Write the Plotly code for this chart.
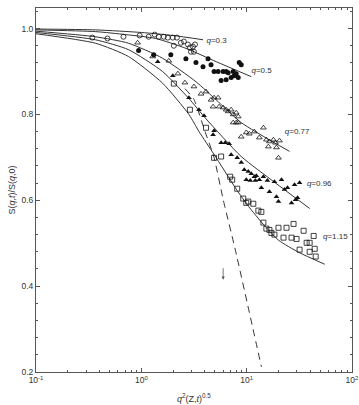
import numpy as np
import plotly.graph_objects as go

# ---- data ----
# q = 0.3 (open circles)
x_q030 = [0.343, 0.477, 0.677, 0.963, 1.174, 1.340, 1.463, 1.633, 1.783, 1.990, 2.174,
          2.374, 2.535, 2.768, 2.892, 3.090, 2.958, 3.159, 2.035, 3.229]
y_q030 = [0.979, 0.977, 0.981, 0.984, 0.981, 0.986, 0.981, 0.981, 0.979, 0.979, 0.979,
          0.967, 0.970, 0.963, 0.956, 0.958, 0.946, 0.946, 0.960, 0.963]
# q = 0.5 (filled circles)
x_q050 = [0.942, 1.311, 1.905, 2.649, 3.300, 3.850, 4.591, 4.298, 4.904, 5.355, 5.721,
          5.978, 6.386, 6.386, 6.673, 7.127, 7.447, 7.614, 7.955, 8.314, 8.498, 8.880]
y_q050 = [0.949, 0.939, 0.939, 0.930, 0.921, 0.911, 0.916, 0.930, 0.900, 0.900, 0.879,
          0.900, 0.900, 0.881, 0.897, 0.886, 0.900, 0.890, 0.895, 0.886, 0.921, 0.916]
# q = 0.77 (open triangles)
x_q077 = [0.922, 1.282, 1.823, 2.222, 2.592, 3.159, 3.685, 4.113, 4.591, 4.904, 5.355,
          4.797, 5.475, 5.978, 6.386, 6.673, 7.127, 7.447, 7.955, 8.314, 7.447, 7.955,
          8.314, 8.880, 9.913, 10.59, 11.82, 13.19, 14.41, 15.39, 16.44, 17.96, 18.76,
          20.48, 16.08, 19.17, 20.04]
y_q077 = [0.967, 0.935, 0.925, 0.895, 0.874, 0.865, 0.848, 0.853, 0.834, 0.839, 0.839,
          0.818, 0.818, 0.816, 0.811, 0.807, 0.811, 0.800, 0.804, 0.795, 0.781, 0.781,
          0.781, 0.748, 0.758, 0.755, 0.760, 0.746, 0.769, 0.741, 0.737, 0.741, 0.734,
          0.739, 0.725, 0.723, 0.699]
# q = 0.96 (filled triangles)
x_q096 = [1.431, 1.990, 2.830, 3.526, 3.936, 4.904, 4.797, 5.721, 6.246, 6.821, 7.127,
          8.132, 8.880, 9.487, 10.36, 11.06, 11.82, 12.35, 9.913, 10.82, 12.08, 13.19,
          14.41, 15.73, 18.35, 21.41, 13.79, 19.17, 22.87, 24.42, 28.49, 31.80, 26.67,
          29.13, 30.43, 20.04, 16.44]
y_q096 = [0.923, 0.890, 0.839, 0.811, 0.797, 0.762, 0.753, 0.734, 0.734, 0.732, 0.706,
          0.699, 0.688, 0.671, 0.667, 0.662, 0.655, 0.657, 0.648, 0.646, 0.646, 0.648,
          0.655, 0.646, 0.643, 0.648, 0.629, 0.608, 0.625, 0.629, 0.636, 0.641, 0.594,
          0.601, 0.606, 0.597, 0.620]
# q = 1.15 (open squares)
x_q115 = [2.035, 2.892, 4.113, 4.904, 5.721, 6.973, 7.286, 8.132, 9.280, 10.36, 9.913,
          11.56, 12.91, 13.79, 14.41, 15.39, 16.44, 17.18, 20.04, 18.35, 22.37, 23.89,
          26.67, 29.76, 27.87, 34.72, 31.80, 37.09, 39.62, 43.27, 39.62, 44.24, 45.22]
y_q115 = [0.872, 0.811, 0.769, 0.699, 0.702, 0.655, 0.648, 0.627, 0.604, 0.597, 0.594,
          0.592, 0.576, 0.573, 0.548, 0.534, 0.531, 0.524, 0.536, 0.520, 0.513, 0.536,
          0.513, 0.510, 0.545, 0.529, 0.485, 0.501, 0.501, 0.517, 0.480, 0.487, 0.469]

# theory curves
cx_030 = [0.1, 0.37, 1.0, 2.0, 3.85]
cy_030 = [0.999, 0.997, 0.991, 0.984, 0.974]
cx_050 = [0.1, 0.366, 0.71, 1.37, 2.65, 5.13, 11.06]
cy_050 = [0.997, 0.993, 0.986, 0.977, 0.954, 0.923, 0.888]
cx_077 = [0.1, 0.366, 0.755, 1.59, 3.31, 5.13, 8.88, 25.5]
cy_077 = [0.994, 0.981, 0.966, 0.931, 0.876, 0.834, 0.781, 0.714]
cx_096 = [0.1, 0.366, 0.755, 1.59, 2.83, 4.11, 8.88, 18.4, 39.6]
cy_096 = [0.991, 0.974, 0.951, 0.900, 0.837, 0.790, 0.702, 0.642, 0.581]
cx_115 = [0.1, 0.366, 0.755, 1.59, 2.83, 3.53, 4.9, 7.96, 10.4, 14.4, 20.1, 31.1, 55.1]
cy_115 = [0.988, 0.966, 0.935, 0.873, 0.800, 0.760, 0.707, 0.626, 0.586, 0.544, 0.507, 0.479, 0.451]
# dashed curve
dx = [2.6, 3.16, 4.0, 4.9, 5.98, 7.78, 13.8]
dy = [0.86, 0.835, 0.762, 0.70, 0.602, 0.486, 0.212]

# labels
lab_text = ["<i>q</i>=0.3", "<i>q</i>=0.5", "<i>q</i>=0.77", "<i>q</i>=0.96", "<i>q</i>=1.15"]
lab_x = [4.15, 11.1, 23.0, 37.3, 53.0]
lab_y = [0.972, 0.902, 0.760, 0.639, 0.515]

# arrow
arrow_x = 5.98
arrow_y = 0.415

x_tickvals = [0.1, 1, 10, 100]
x_ticktext = ["10<sup>-1</sup>", "10<sup>0</sup>", "10<sup>1</sup>", "10<sup>2</sup>"]
y_tickvals = [0.2, 0.4, 0.6, 0.8, 1.0]
y_ticktext = ["0.2", "0.4", "0.6", "0.8", "1.0"]

LC = "#333333"
FONT = "Liberation Sans, Arial"
fig = go.Figure()
for cx, cy in [(cx_030, cy_030), (cx_050, cy_050), (cx_077, cy_077), (cx_096, cy_096), (cx_115, cy_115)]:
    fig.add_trace(go.Scatter(x=cx, y=cy, mode="lines", line=dict(color=LC, width=1, shape="spline", smoothing=0.6),
                             hoverinfo="skip"))
fig.add_trace(go.Scatter(x=dx, y=dy, mode="lines", line=dict(color=LC, width=1, dash="7px,5px", shape="spline", smoothing=0.5)))

MS = 5
fig.add_trace(go.Scatter(x=x_q030, y=y_q030, mode="markers",
                         marker=dict(symbol="circle-open", size=MS, color="#111", line=dict(width=0.8))))
fig.add_trace(go.Scatter(x=x_q050, y=y_q050, mode="markers",
                         marker=dict(symbol="circle", size=MS, color="#111", line=dict(width=0))))
fig.add_trace(go.Scatter(x=x_q077, y=y_q077, mode="markers",
                         marker=dict(symbol="triangle-up-open", size=MS, color="#111", line=dict(width=0.8))))
fig.add_trace(go.Scatter(x=x_q096, y=y_q096, mode="markers",
                         marker=dict(symbol="triangle-up", size=MS, color="#111", line=dict(width=0))))
fig.add_trace(go.Scatter(x=x_q115, y=y_q115, mode="markers",
                         marker=dict(symbol="square-open", size=MS, color="#111", line=dict(width=0.8))))
fig.add_trace(go.Scatter(x=lab_x, y=lab_y, mode="text", text=lab_text, textposition="middle right",
                         cliponaxis=False, textfont=dict(size=8, color="#333", family=FONT)))

fig.add_annotation(x=np.log10(arrow_x), y=arrow_y, ax=0, ay=-13, text="", showarrow=True,
                   arrowhead=2, arrowsize=0.8, arrowwidth=0.8, arrowcolor="#555")
# x-axis title placed below the tick labels
fig.add_annotation(text="<i>q</i><sup>2</sup>(Z,<i>t</i>)<sup>0.5</sup>", xref="paper", yref="paper",
                   x=0.5, y=-0.072, xanchor="center", yanchor="middle", showarrow=False,
                   font=dict(size=9, color="#333", family=FONT))

axis_common = dict(showline=True, linecolor="#555", linewidth=1, mirror="ticks", ticks="inside",
                   tickcolor="#555", ticklen=4, tickwidth=1, showgrid=False, zeroline=False,
                   automargin=False, tickfont=dict(size=8.5, color="#333", family=FONT))
fig.update_xaxes(type="log", range=[-1, 2], tickvals=x_tickvals, ticktext=x_ticktext,
                 minor=dict(ticks="inside", ticklen=2, tickcolor="#555", dtick="D1", showgrid=False),
                 **axis_common)
fig.update_yaxes(range=[0.2, 1.048], tickvals=y_tickvals, ticktext=y_ticktext,
                 minor=dict(ticks="inside", ticklen=2, tickcolor="#555", dtick=0.04, tick0=0.2, showgrid=False),
                 title=dict(text="S(<i>q</i>,<i>t</i>)/S(<i>q</i>,0)", standoff=4,
                            font=dict(size=9, color="#333", family=FONT)),
                 **axis_common)
fig.update_layout(width=359, height=405, margin=dict(l=36, r=7, t=8, b=33),
                  paper_bgcolor="white", plot_bgcolor="white", showlegend=False)
fig.write_html("out.html")
